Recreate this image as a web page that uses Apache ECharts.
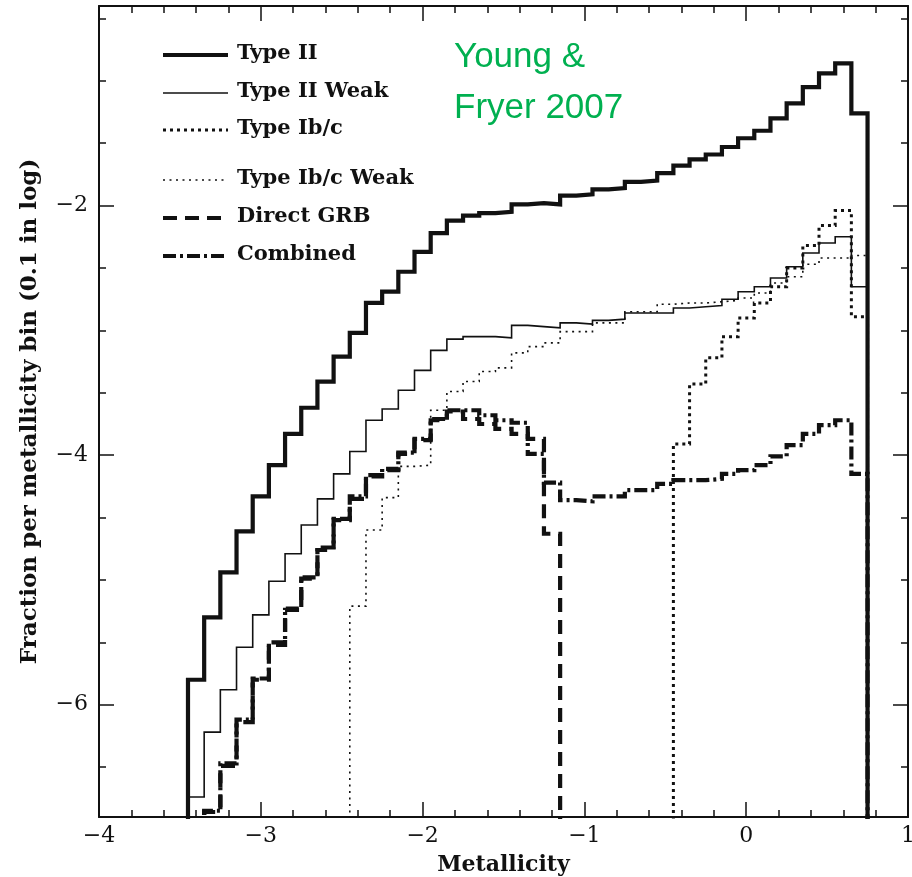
<!DOCTYPE html>
<html>
<head>
<meta charset="utf-8">
<script src="https://cdn.jsdelivr.net/npm/echarts@6/dist/echarts.min.js"></script>
<style>
html,body{margin:0;padding:0;background:#fff;}
#chart{width:912px;height:877px;}
</style>
</head>
<body>
<div id="chart"></div>
<script>
// ---- data (log fraction per 0.1-dex metallicity bin) ----
const binCenters = [-3.4,-3.3,-3.2,-3.1,-3.0,
  -2.9,-2.8,-2.7,-2.6,-2.5,-2.4,-2.3,-2.2,-2.1,-2.0,
  -1.9,-1.8,-1.7,-1.6,-1.5,-1.4,-1.3,-1.2,-1.1,-1.0,
  -0.9,-0.8,-0.7,-0.6,-0.5,-0.4,-0.3,-0.2,-0.1,0.0,
  0.1,0.2,0.3,0.4,0.5,0.6,0.7];
const binWidth = 0.1;

const typeII = [-5.80,-5.30,-4.94,-4.61,-4.33,
  -4.08,-3.83,-3.62,-3.41,-3.21,-3.02,-2.78,-2.69,-2.53,-2.37,
  -2.22,-2.12,-2.08,-2.06,-2.05,-1.99,-1.98,-1.99,-1.92,-1.91,
  -1.87,-1.86,-1.81,-1.80,-1.74,-1.68,-1.63,-1.59,-1.53,-1.46,
  -1.40,-1.30,-1.18,-1.05,-0.94,-0.86,-1.26];

const typeIIWeak = [-6.74,-6.22,-5.88,-5.54,-5.28,
  -5.01,-4.79,-4.56,-4.35,-4.15,-3.97,-3.72,-3.63,-3.48,-3.32,
  -3.16,-3.07,-3.05,-3.05,-3.06,-2.96,-2.97,-2.98,-2.94,-2.95,
  -2.92,-2.91,-2.86,-2.86,-2.86,-2.82,-2.81,-2.80,-2.75,-2.69,
  -2.65,-2.58,-2.49,-2.38,-2.30,-2.25,-2.65];

const typeIbc = [null,null,null,null,null,
  null,null,null,null,null,null,null,null,null,null,
  null,null,null,null,null,null,null,null,null,null,
  null,null,null,null,null,-3.91,-3.43,-3.22,-3.05,-2.90,
  -2.78,-2.65,-2.50,-2.32,-2.16,-2.04,-2.89];

const typeIbcWeak = [null,null,null,null,null,
  null,null,null,null,null,-5.21,-4.60,-4.34,-4.09,-4.08,
  -3.64,-3.49,-3.41,-3.33,-3.30,-3.18,-3.13,-3.10,-3.01,-3.01,
  -2.94,-2.94,-2.85,-2.85,-2.79,-2.78,-2.78,-2.77,-2.76,-2.74,
  -2.70,-2.62,-2.57,-2.47,-2.42,-2.42,-2.40];

const directGRB = [null,-6.86,-6.49,-6.14,-5.80,
  -5.52,-5.24,-4.99,-4.76,-4.52,-4.35,-4.17,-4.12,-3.99,-3.88,
  -3.72,-3.65,-3.71,-3.75,-3.79,-3.83,-3.87,-4.63,null,null,
  null,null,null,null,null,null,null,null,null,null,
  null,null,null,null,null,null,null];

const combined = [null,-6.85,-6.47,-6.12,-5.79,
  -5.50,-5.23,-4.98,-4.74,-4.51,-4.33,-4.16,-4.11,-3.98,-3.87,
  -3.71,-3.64,-3.64,-3.68,-3.72,-3.74,-3.99,-4.22,-4.36,-4.37,
  -4.33,-4.33,-4.28,-4.28,-4.23,-4.20,-4.20,-4.19,-4.15,-4.12,
  -4.08,-4.01,-3.92,-3.83,-3.76,-3.72,-4.15];

const seriesNames = ['Type II','Type II Weak','Type Ib/c','Type Ib/c Weak','Direct GRB','Combined'];
const xMin = -4, xMax = 1;
const xMajorTicks = [-4,-3,-2,-1,0,1];
const xMinorTicks = [-3.8,-3.6,-3.4,-3.2,-2.8,-2.6,-2.4,-2.2,-1.8,-1.6,-1.4,-1.2,
  -0.8,-0.6,-0.4,-0.2,0.2,0.4,0.6,0.8];
const yMin = -6.9, yMax = -0.4;
const yMajorTicks = [-6,-4,-2];
const yMinorTicks = [-6.5,-5.5,-5,-4.5,-3.5,-3,-2.5,-1.5,-1,-0.5];
const FLOOR = -9; // below the visible axis: histogram drops to zero

// ---- build histogram outlines (step at bin edges) ----
function histPoints(values){
  let first = -1, last = -1;
  values.forEach((v,i)=>{ if(v!=null){ if(first<0) first=i; last=i; } });
  const h = binWidth/2;
  const pts = [[binCenters[first]-h, FLOOR]];
  for(let i=first;i<=last;i++){
    pts.push([binCenters[i]-h, values[i]==null?FLOOR:values[i]]);
  }
  pts.push([binCenters[last]+h, values[last]]);
  pts.push([binCenters[last]+h, FLOOR]);
  return pts;
}

const INK = '#111';
const styles = [
  {width:4.2, type:'solid'},
  {width:1.6, type:'solid'},
  {width:3, type:[3,4]},
  {width:1.6, type:[2,4.5]},
  {width:4.2, type:[14,8]},
  {width:4.2, type:[13,4,3,4]}
];
const dataSets = [typeII, typeIIWeak, typeIbc, typeIbcWeak, directGRB, combined];

const series = dataSets.map((vals,k)=>({
  name: seriesNames[k],
  type:'line',
  step:'end',
  data: histPoints(vals),
  showSymbol:false,
  symbol:'none',
  clip:true,
  z: 10 - k,
  lineStyle:{color:INK, width:styles[k].width, type:styles[k].type, cap:'butt', join:'miter'}
}));

const serif = '"DejaVu Serif", "Liberation Serif", serif';
const minus = v => String(v).replace('-', '\u2212');

// ---- legend drawn as graphic rows ----
const legendRows = [55, 93, 130, 180, 218, 256];
const graphics = [];
legendRows.forEach((y,k)=>{
  graphics.push({type:'line', shape:{x1:163,y1:y,x2:228,y2:y},
    style:{stroke:INK, lineWidth:styles[k].width, lineDash: styles[k].type==='solid'?null:styles[k].type, lineCap:'butt'}, z:100});
  graphics.push({type:'text', x:237, y:y-1,
    style:{text:seriesNames[k], font:'bold 21px '+serif, fill:INK, verticalAlign:'middle', align:'left'}, z:100});
});
graphics.push({type:'text', x:454, y:57,
  style:{text:'Young &', font:'35px "Liberation Sans", Arial, sans-serif', fill:'#00b050', verticalAlign:'middle'}, z:100});
graphics.push({type:'text', x:454, y:108,
  style:{text:'Fryer 2007', font:'35px "Liberation Sans", Arial, sans-serif', fill:'#00b050', verticalAlign:'middle'}, z:100});

const axisLineOn = {show:true, onZero:false, lineStyle:{color:INK, width:2}};
const axisLineOff = {show:false, onZero:false};
const tickStyle = {color:INK, width:1.5};

function xAx(pos, major, withLabel){
  const a = {type:'value', min:xMin, max:xMax, position:pos,
    axisLine: major ? axisLineOn : axisLineOff,
    axisTick:{show:true, inside:true, length: major?15:7, customValues: major?xMajorTicks:xMinorTicks, lineStyle:tickStyle},
    axisLabel:{show:false}, splitLine:{show:false}, minorTick:{show:false}};
  if(withLabel){
    a.axisLabel = {show:true, customValues:xMajorTicks, margin:8, fontFamily:serif, fontSize:22, color:INK, formatter:minus};
    a.name='Metallicity'; a.nameLocation='middle'; a.nameGap=37;
    a.nameTextStyle = {fontFamily:serif, fontSize:22, fontWeight:'bold', color:INK};
  }
  return a;
}
function yAx(pos, major, withLabel){
  const a = {type:'value', min:yMin, max:yMax, position:pos,
    axisLine: major ? axisLineOn : axisLineOff,
    axisTick:{show:true, inside:true, length: major?15:7, customValues: major?yMajorTicks:yMinorTicks, lineStyle:tickStyle},
    axisLabel:{show:false}, splitLine:{show:false}, minorTick:{show:false}};
  if(withLabel){
    a.axisLabel = {show:true, customValues:yMajorTicks, margin:11, fontFamily:serif, fontSize:22, color:INK, formatter:minus};
    a.name = 'Fraction per metallicity bin (0.1 in log)'; a.nameLocation='middle'; a.nameGap=57; a.nameRotate=90;
    a.nameTextStyle = {fontFamily:serif, fontSize:23, fontWeight:'bold', color:INK};
  }
  return a;
}

const option = {
  backgroundColor:'#fff',
  animation:false,
  grid:{left:99, top:6, width:809, height:811, outerBoundsMode:'none'},
  xAxis:[xAx('bottom',true,true), xAx('bottom',false,false), xAx('top',true,false), xAx('top',false,false)],
  yAxis:[yAx('left',true,true), yAx('left',false,false), yAx('right',true,false), yAx('right',false,false)],
  series: series,
  graphic: graphics
};

const chart = echarts.init(document.getElementById('chart'), null, {renderer:'canvas'});
chart.setOption(option);
</script>
</body>
</html>
